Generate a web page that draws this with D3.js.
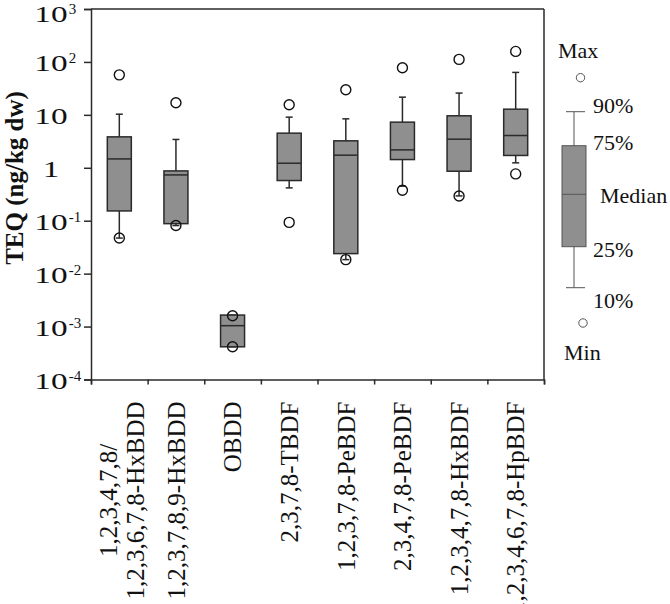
<!DOCTYPE html>
<html>
<head>
<meta charset="utf-8">
<script src="https://cdn.jsdelivr.net/npm/d3@7"></script>
<style>
  html, body { margin: 0; padding: 0; background: #fff; }
  svg { display: block; }
  text { font-family: "Liberation Serif", "Times New Roman", serif; fill: #111; }
</style>
</head>
<body>
<svg id="chart" width="670" height="604"></svg>
<script>
// ---- data ----
const categories = [
  ["1,2,3,4,7,8/", "1,2,3,6,7,8-HxBDD"],
  ["1,2,3,7,8,9-HxBDD"],
  ["OBDD"],
  ["2,3,7,8-TBDF"],
  ["1,2,3,7,8-PeBDF"],
  ["2,3,4,7,8-PeBDF"],
  ["1,2,3,4,7,8-HxBDF"],
  ["1,2,3,4,6,7,8-HpBDF"]
];
const minVals    = [0.047, 0.081, 0.000415, 0.093, 0.0184, 0.377, 0.294, 0.766];
const p10Vals    = [0.047, 0.081, 0.000415, 0.417, 0.0184, 0.45,  0.294, 1.24];
const q1Vals     = [0.153, 0.088, 0.000415, 0.574, 0.0239, 1.43,  0.861, 1.71];
const medianVals = [1.47,  0.733, 0.00104,  1.22,  1.73,   2.18,  3.47,  4.07];
const q3Vals     = [3.84,  0.873, 0.00165,  4.51,  3.23,   7.28,  9.6,   12.8];
const p90Vals    = [10.3,  3.43,  0.00165,  9.05,  8.41,   21.6,  25.8,  63.4];
const maxVals    = [57,    16.9,  0.0016,   15.5,  29.8,   77.6,  111.7, 158];
const yTickValues = [1e-4, 1e-3, 1e-2, 1e-1, 1, 10, 100, 1000];
const yTickLabels = ["10^-4", "10^-3", "10^-2", "10^-1", "1", "10", "10^2", "10^3"];
const yTitle = "TEQ (ng/kg dw)";
const legendLabels = ["Max", "90%", "75%", "Median", "25%", "10%", "Min"];

// ---- layout ----
const svg = d3.select("#chart");
const plot = { left: 91, right: 544, top: 9, bottom: 379.5 };
const axisColor = "#2a2a2a";
const boxFill = "#8f8f8f";

const y = d3.scaleLog().domain([1e-4, 1e3]).range([plot.bottom, plot.top]);
const xb = d3.scaleBand().domain(d3.range(categories.length)).range([plot.left, plot.right]).padding(0);
const xEdge = d3.scaleLinear().domain([0, categories.length]).range([plot.left, plot.right]);

// frame top & right
svg.append("line").attr("x1", plot.left).attr("x2", plot.right).attr("y1", plot.top).attr("y2", plot.top)
  .attr("stroke", axisColor).attr("stroke-width", 1.5);
svg.append("line").attr("x1", plot.right).attr("x2", plot.right).attr("y1", plot.top).attr("y2", plot.bottom)
  .attr("stroke", axisColor).attr("stroke-width", 1.5);

// y axis
const yAxis = svg.append("g").attr("transform", `translate(${plot.left},0)`)
  .call(d3.axisLeft(y).tickValues(yTickValues).tickSize(7).tickFormat(""));
yAxis.select(".domain").attr("stroke", axisColor).attr("stroke-width", 1.5);
yAxis.selectAll(".tick line").attr("stroke", axisColor).attr("stroke-width", 1.5);

// y tick labels (base + superscript)
yTickValues.forEach((v, i) => {
  const lab = yTickLabels[i];
  const parts = lab.split("^");
  const ty = Math.max(y(v) + 1.5, 14);
  const g = svg.append("g").attr("transform", `translate(51, ${ty})`);
  const base = g.append("text")
    .attr("text-anchor", "middle").attr("dy", "0.35em")
    .attr("font-size", 23)
    .attr("transform", "scale(1.45,1)")
    .text(parts[0]);
  if (parts.length > 1) {
    const w = base.node().getComputedTextLength() * 1.45;
    g.append("text")
      .attr("x", w / 2 + 1).attr("y", 0)
      .attr("font-size", 15)
      .attr("text-anchor", "start")
      .text(parts[1]);
  }
});

// x axis
const xAxis = svg.append("g").attr("transform", `translate(0,${plot.bottom})`)
  .call(d3.axisBottom(xEdge).tickValues(d3.range(categories.length + 1)).tickSize(5).tickFormat(""));
xAxis.select(".domain").attr("stroke", axisColor).attr("stroke-width", 1.5);
xAxis.selectAll(".tick line").attr("stroke", axisColor).attr("stroke-width", 1.5);

// x labels (rotated)
categories.forEach((lines, i) => {
  const cx = xb(i) + xb.bandwidth() / 2;
  const g = svg.append("g");
  const texts = lines.map(l => g.append("text").attr("font-size", 25).text(l));
  const lens = texts.map(t => t.node().getComputedTextLength());
  const maxLen = d3.max(lens);
  const lineGap = 27;
  const n = lines.length;
  texts.forEach((t, k) => {
    const off = (k - (n - 1) / 2) * lineGap + (n > 1 ? 2.5 : 0);
    t.attr("text-anchor", "middle")
     .attr("dy", "0.35em")
     .attr("transform", `translate(${cx + off},${plot.bottom + 22 + maxLen / 2}) rotate(-90)`);
  });
});

// y title
svg.append("text")
  .attr("transform", `translate(23, 178) rotate(-90)`)
  .attr("text-anchor", "middle")
  .attr("font-size", 25).attr("font-weight", "bold")
  .text(yTitle);

// ---- boxes ----
const boxW = 24, capW = 7, r = 5;
const data = categories.map((c, i) => ({
  i, min: minVals[i], p10: p10Vals[i], q1: q1Vals[i], med: medianVals[i],
  q3: q3Vals[i], p90: p90Vals[i], max: maxVals[i]
}));
const bx = svg.append("g");
data.forEach(d => {
  const cx = xb(d.i) + xb.bandwidth() / 2;
  const g = bx.append("g");
  // whiskers
  g.append("line").attr("x1", cx).attr("x2", cx).attr("y1", y(d.q3)).attr("y2", y(d.p90))
    .attr("stroke", axisColor).attr("stroke-width", 1.5);
  g.append("line").attr("x1", cx).attr("x2", cx).attr("y1", y(d.q1)).attr("y2", y(d.p10))
    .attr("stroke", axisColor).attr("stroke-width", 1.5);
  [d.p90, d.p10].forEach(v => {
    g.append("line").attr("x1", cx - capW / 2).attr("x2", cx + capW / 2).attr("y1", y(v)).attr("y2", y(v))
      .attr("stroke", axisColor).attr("stroke-width", 1.5);
  });
  // box
  g.append("rect").attr("x", cx - boxW / 2).attr("width", boxW)
    .attr("y", y(d.q3)).attr("height", y(d.q1) - y(d.q3))
    .attr("fill", boxFill).attr("stroke", axisColor).attr("stroke-width", 1.5);
  g.append("line").attr("x1", cx - boxW / 2).attr("x2", cx + boxW / 2).attr("y1", y(d.med)).attr("y2", y(d.med))
    .attr("stroke", axisColor).attr("stroke-width", 1.5);
  // extremes
  [d.max, d.min].forEach(v => {
    g.append("circle").attr("cx", cx).attr("cy", y(v)).attr("r", r)
      .attr("fill", "none").attr("stroke", "#111").attr("stroke-width", 1.4);
  });
});

// ---- legend (schematic box) ----
const lg = svg.append("g");
const legendStroke = "#555";
const lcx = 574;
const leg = { max: 77.7, p90: 111.7, q3: 145.7, med: 194.3, q1: 246.7, p10: 287.7, min: 323 };
lg.append("line").attr("x1", lcx).attr("x2", lcx).attr("y1", leg.p90).attr("y2", leg.p10)
  .attr("stroke", legendStroke).attr("stroke-width", 1);
[leg.p90, leg.p10].forEach(v => lg.append("line").attr("x1", lcx - 8).attr("x2", lcx + 11).attr("y1", v).attr("y2", v)
  .attr("stroke", legendStroke).attr("stroke-width", 1));
lg.append("rect").attr("x", lcx - 12).attr("width", 24).attr("y", leg.q3).attr("height", leg.q1 - leg.q3)
  .attr("fill", boxFill).attr("stroke", legendStroke).attr("stroke-width", 1);
lg.append("line").attr("x1", lcx - 12).attr("x2", lcx + 12).attr("y1", leg.med).attr("y2", leg.med)
  .attr("stroke", legendStroke).attr("stroke-width", 1);
lg.append("circle").attr("cx", 580.5).attr("cy", leg.max).attr("r", 4.2).attr("fill", "none").attr("stroke", "#555").attr("stroke-width", 1);
lg.append("circle").attr("cx", 583).attr("cy", leg.min).attr("r", 4.2).attr("fill", "none").attr("stroke", "#555").attr("stroke-width", 1);

const legendTextPos = [[558, 58], [593, 113], [593, 150], [600, 203], [593, 257], [593, 308], [564, 360]];
legendLabels.forEach((t, i) => {
  lg.append("text").attr("x", legendTextPos[i][0]).attr("y", legendTextPos[i][1])
    .attr("font-size", 22).text(t);
});
</script>
</body>
</html>
